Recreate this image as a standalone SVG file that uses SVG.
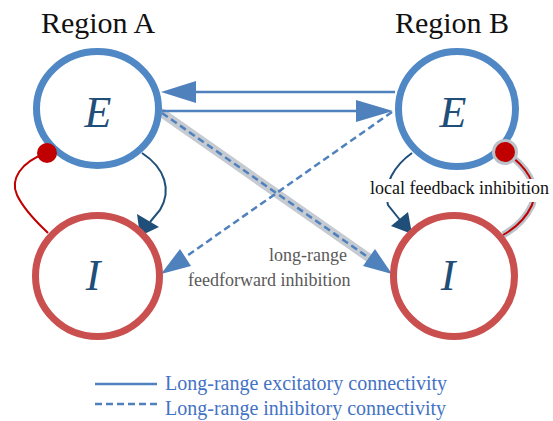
<svg xmlns="http://www.w3.org/2000/svg" width="553" height="421" viewBox="0 0 553 421">
<style>
.eN{fill:#fff;stroke:#5088C5;stroke-width:7}
.iN{fill:#fff;stroke:#C9504F;stroke-width:7}
.serif{font-family:'Liberation Serif','Times New Roman',Times,'DejaVu Serif',serif}
.glyph{font-style:italic;font-size:44px;fill:#1F4E79;text-anchor:middle}
.title{font-size:30px;fill:#111;text-anchor:middle}
.lr{stroke:#4F81BD;stroke-width:2.5;fill:none}
.dash{stroke-dasharray:7 4}
.head{fill:#4F81BD}
.navy{stroke:#1F4E79;stroke-width:2;fill:none}
.red{stroke:#C00000;stroke-width:2;fill:none}
.gray{font-size:18px;fill:#595959}
.leg{font-size:20px;fill:#4472C4}
</style>
<rect width="553" height="421" fill="#fff"/>
<text class="serif title" x="98" y="33">Region A</text>
<text class="serif title" x="452" y="33">Region B</text>

<g id="connectors">
  <line x1="162" y1="113" x2="372" y2="260" stroke="#C6CBD2" stroke-width="9" stroke-linecap="round"/>
  <line x1="162" y1="113" x2="372" y2="260" class="lr dash" stroke-width="2"/>
  <polygon class="head" points="392,274 363,266 375,249"/>
  <line x1="194" y1="92" x2="395" y2="92" class="lr"/>
  <polygon class="head" points="161,92 196,81 196,103"/>
  <line x1="162" y1="111" x2="358" y2="111" class="lr"/>
  <polygon class="head" points="393,111 356,100 356,122"/>
  <line x1="392" y1="112" x2="184" y2="258" class="lr dash"/>
  <polygon class="head" points="161,274 191,266 180,249"/>
  <path class="red" d="M47,153 C20,162 10,180 17,195 C25,212 40,225 48,233"/>
  <path class="navy" d="M142,153 C165,168 172,190 160,210 L150,222"/>
  <polygon fill="#1F4E79" points="140,236 137,214 159,227"/>
  <path d="M505,152 C525,165 540,185 532,205 C525,220 512,230 503,235" stroke="#BCC2CA" stroke-width="7" fill="none"/>
  <path class="red" d="M505,152 C525,165 540,185 532,205 C525,220 512,230 503,235"/>
  <path class="navy" d="M412,153 C395,165 382,185 388,205 L400,220"/>
  <polygon fill="#1F4E79" points="412,234 391,226 408,212"/>
</g>

<g id="A_E">
  <ellipse class="eN" cx="97.5" cy="108.5" rx="61" ry="57"/>
  <text class="serif glyph" x="98" y="127">E</text>
</g>
<g id="A_I">
  <ellipse class="iN" cx="97.5" cy="276" rx="62" ry="60.5"/>
  <text class="serif glyph" x="93" y="290">I</text>
</g>
<g id="B_E">
  <ellipse class="eN" cx="457" cy="109" rx="58.5" ry="57.5"/>
  <text class="serif glyph" x="453" y="127">E</text>
</g>
<g id="B_I">
  <ellipse class="iN" cx="454" cy="276" rx="60.5" ry="60.5"/>
  <text class="serif glyph" x="448" y="290">I</text>
</g>

<g id="dots">
  <circle cx="47" cy="153" r="10" fill="#C00000"/>
  <circle cx="505" cy="152" r="13" fill="#BCC2CA"/>
  <circle cx="505" cy="152" r="10" fill="#C00000"/>
</g>

<g id="labels">
  <rect x="367" y="179" width="186" height="23" fill="#fff"/>
  <text class="serif" x="370" y="194" font-size="18" fill="#111">local feedback inhibition</text>
  <text class="serif gray" x="269" y="261">long-range</text>
  <text class="serif gray" x="188" y="286">feedforward inhibition</text>
</g>

<g id="legend">
  <line x1="95" y1="384" x2="157" y2="384" class="lr"/>
  <text class="serif leg" x="165" y="390">Long-range excitatory connectivity</text>
  <line x1="95" y1="404" x2="157" y2="404" class="lr dash"/>
  <text class="serif leg" x="165" y="415">Long-range inhibitory connectivity</text>
</g>
</svg>
